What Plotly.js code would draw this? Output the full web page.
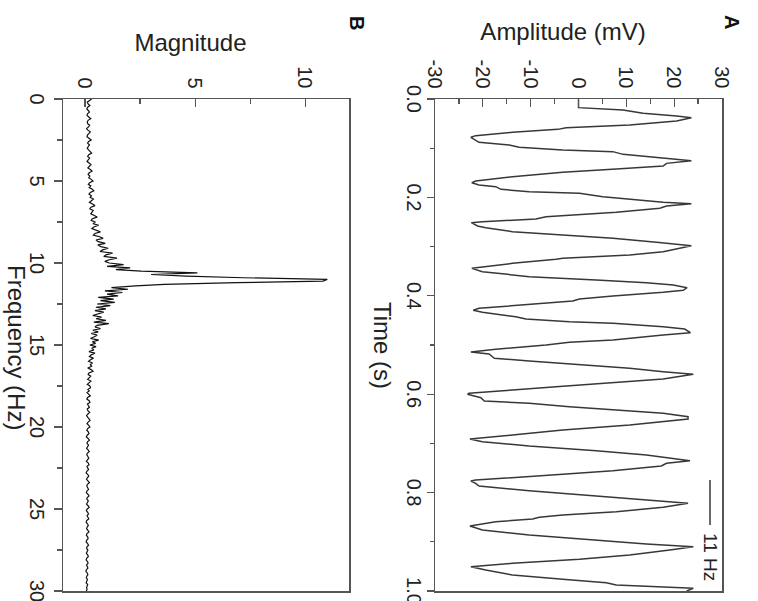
<!DOCTYPE html>
<html>
<head>
<meta charset="utf-8">
<script src="https://cdn.plot.ly/plotly-3.0.1.min.js"></script>
<style>
  html, body { margin: 0; padding: 0; width: 758px; height: 601px; overflow: hidden; background: #fff; }
  #chart { position: absolute; left: 0; top: 0; width: 601px; height: 758px;
           transform-origin: 0 0; transform: translateX(758px) rotate(90deg); }
</style>
</head>
<body>
<div id="chart"></div>
<script>
// Panel A: recorded signal (time in s, amplitude in mV)
const timeS = [0,0.0176,0.0224,0.0291,0.0346,0.0379,0.0447,0.0528,0.0583,0.0617,
  0.0678,0.0745,0.0779,0.0833,0.0881,0.0935,0.0982,0.1037,0.1070,0.1125,
  0.1206,0.1253,0.1308,0.1362,0.1423,0.1491,0.1579,0.1667,0.1701,0.1748,
  0.1782,0.1836,0.1883,0.1917,0.1985,0.2053,0.2100,0.2127,0.2175,0.2222,
  0.2304,0.2392,0.2439,0.2493,0.2514,0.2581,0.2615,0.2696,0.2764,0.2832,
  0.2913,0.2981,0.3103,0.3171,0.3238,0.3259,0.3340,0.3421,0.3442,0.3509,
  0.3611,0.3679,0.3733,0.3780,0.3835,0.3889,0.3930,0.4004,0.4065,0.4106,
  0.4173,0.4255,0.4295,0.4336,0.4390,0.4424,0.4472,0.4526,0.4560,0.4627,
  0.4675,0.4749,0.4797,0.4898,0.4946,0.5000,0.5088,0.5142,0.5183,0.5271,
  0.5325,0.5393,0.5474,0.5542,0.5596,0.5691,0.5779,0.5847,0.5915,0.5982,
  0.6003,0.6071,0.6138,0.6186,0.6253,0.6321,0.6389,0.6457,0.6504,0.6626,
  0.6728,0.6829,0.6911,0.6965,0.7053,0.7148,0.7236,0.7351,0.7405,0.7459,
  0.7554,0.7629,0.7710,0.7744,0.7764,0.7812,0.7866,0.7961,0.8069,0.8150,
  0.8218,0.8299,0.8388,0.8455,0.8503,0.8537,0.8591,0.8679,0.8760,0.8862,
  0.8963,0.9045,0.9099,0.9167,0.9268,0.9356,0.9438,0.9505,0.9573,0.9675,
  0.9763,0.9831,0.9878,0.9912,0.9946,1.0];
const ampMV = [0,0,9.3,13.5,20.5,23.6,20.5,10.7,-2.6,-4.3,
  -13.8,-21.5,-22.5,-21.5,-20.8,-14.5,-12.4,-3.3,7.2,9.3,
  17.7,23.6,18.4,17.7,7.9,-3.3,-13.8,-21.5,-22.3,-20.8,
  -17.3,-16.2,-10.3,0.2,5.1,13.5,17.7,23.6,18.4,17.0,
  7.9,-6.8,-8.9,-20.1,-22.4,-21.1,-19.4,-13.8,-3.3,7.2,
  16.3,23.6,17.7,10.7,-3.3,-4.7,-13.8,-21.5,-22.3,-20.1,
  -10.3,3.7,14.2,19.8,22.7,21.9,17.7,7.2,0.2,-1.2,
  -10.3,-20.8,-22.0,-20.1,-15.9,-13.1,-11.0,-1.9,7.2,17.7,
  22.2,23.4,17.7,7.2,-1.9,-6.8,-17.3,-22.5,-18.7,-17.6,
  -10.3,0.2,10.7,17.7,24.0,17.7,3.7,-4.7,-13.8,-22.9,
  -23.2,-20.4,-19.7,-10.3,-1.9,7.2,17.7,22.9,22.9,10.7,
  -3.3,-13.8,-22.7,-20.1,-10.3,3.7,14.2,23.3,18.4,17.3,
  7.2,-3.3,-17.3,-21.5,-22.5,-21.5,-20.8,-10.3,3.7,14.2,
  22.9,17.7,7.9,-3.3,-8.2,-9.6,-17.3,-22.7,-20.1,-10.3,
  3.7,14.2,24.0,19.1,10.7,0.2,-13.8,-22.5,-19.4,-13.8,
  -3.3,5.8,7.9,17.7,24.0,22.6];

// Panel B: spectrum magnitude, one value per 0.1 Hz from 0 to 30 Hz
const freqStepHz = 0.1;
const magnitude = [
  0.30,0.18,0.10,0.14,0.22,0.12,0.08,0.15,0.20,0.11,
  0.09,0.17,0.26,0.14,0.10,0.12,0.21,0.16,0.07,0.13,
  0.24,0.18,0.11,0.09,0.19,0.28,0.15,0.12,0.20,0.14,
  0.10,0.16,0.25,0.30,0.17,0.12,0.21,0.14,0.09,0.18,
  0.27,0.20,0.13,0.24,0.32,0.19,0.14,0.22,0.17,0.28,
  0.36,0.21,0.15,0.26,0.19,0.33,0.40,0.24,0.18,0.29,
  0.23,0.38,0.30,0.20,0.34,0.45,0.27,0.22,0.37,0.31,
  0.26,0.42,0.55,0.33,0.28,0.47,0.36,0.62,0.40,0.31,
  0.52,0.70,0.45,0.38,0.66,0.82,0.50,0.60,0.92,0.58,
  0.72,1.05,0.80,0.68,1.25,0.95,0.85,1.45,1.10,0.90,
  1.10,1.75,1.00,2.05,1.40,2.55,5.10,3.00,4.60,7.20,
  11.00,10.80,6.90,3.60,2.30,1.20,1.95,0.90,1.70,1.00,
  1.50,0.60,1.30,0.70,1.35,0.55,1.15,0.50,0.95,0.45,
  0.85,0.60,0.35,0.75,0.50,0.95,0.40,1.08,0.55,0.45,
  0.70,0.35,0.60,0.28,0.55,0.42,0.25,0.62,0.33,0.48,
  0.22,0.50,0.30,0.40,0.18,0.45,0.28,0.20,0.38,0.25,
  0.16,0.34,0.24,0.30,0.12,0.28,0.36,0.18,0.14,0.26,
  0.20,0.12,0.27,0.18,0.10,0.22,0.25,0.13,0.19,0.09,
  0.16,0.24,0.12,0.08,0.19,0.22,0.11,0.15,0.20,0.10,
  0.13,0.21,0.16,0.07,0.12,0.19,0.23,0.14,0.09,0.17,
  0.22,0.12,0.08,0.15,0.18,0.10,0.06,0.14,0.20,0.11,
  0.09,0.16,0.12,0.07,0.14,0.19,0.10,0.08,0.13,0.17,
  0.11,0.06,0.15,0.18,0.09,0.12,0.16,0.08,0.05,0.13,
  0.17,0.10,0.07,0.14,0.20,0.11,0.08,0.12,0.16,0.09,
  0.06,0.13,0.18,0.10,0.08,0.15,0.11,0.07,0.14,0.19,
  0.10,0.06,0.12,0.16,0.09,0.13,0.17,0.08,0.05,0.11,
  0.15,0.10,0.07,0.13,0.18,0.09,0.06,0.12,0.14,0.08,
  0.05,0.11,0.16,0.09,0.07,0.13,0.10,0.06,0.12,0.15,
  0.08,0.05,0.11,0.14,0.07,0.10,0.13,0.06,0.04,0.10,
  0.13,0.08,0.06,0.11,0.09,0.05,0.12,0.10,0.07,0.09,
  0.06];
const freqHz = magnitude.map((_, i) => Math.round(i * freqStepHz * 10) / 10);

// Tick labels
const timeTicks = [0, 0.2, 0.4, 0.6, 0.8, 1.0];
const timeTickText = ['0.0', '0.2', '0.4', '0.6', '0.8', '1.0'];
const ampTicks = [-30, -20, -10, 0, 10, 20, 30];
const ampTickText = ['-30', '-20', '-10', '0', '10', '20', '30'];
const freqTicks = [0, 5, 10, 15, 20, 25, 30];
const freqTickText = ['0', '5', '10', '15', '20', '25', '30'];
const magTicks = [0, 5, 10];
const magTickText = ['0', '5', '10'];
const legendLabel = '11 Hz';

const FONT = 'Liberation Sans, Arial, Helvetica, sans-serif';
const FRAME = '#555';

function xAx(extra) {
  return Object.assign({
    showline: true, linecolor: FRAME, linewidth: 1.5, mirror: true,
    showgrid: false, zeroline: false, fixedrange: true,
    ticks: 'outside', ticklen: 7, tickwidth: 1.3, tickcolor: FRAME,
    tickmode: 'array', ticklabeloverflow: 'allow',
    tickfont: {family: FONT, size: 20, color: '#222'}
  }, extra);
}
function yAx(extra) {
  return Object.assign({
    showline: true, linecolor: FRAME, linewidth: 1.5, mirror: true,
    showgrid: false, zeroline: false, fixedrange: true,
    ticks: 'inside', ticklen: 8, tickwidth: 1.3, tickcolor: FRAME,
    tickmode: 'array', ticklabeloverflow: 'allow',
    tickfont: {family: FONT, size: 20, color: '#222'}
  }, extra);
}

const traces = [
  {x: timeS, y: ampMV, xaxis: 'x', yaxis: 'y', type: 'scatter', mode: 'lines',
   name: legendLabel, line: {color: '#383838', width: 1.5}},
  {x: freqHz, y: magnitude, xaxis: 'x2', yaxis: 'y2', type: 'scatter', mode: 'lines',
   name: 'Spectrum', line: {color: '#111', width: 1.2}}
];

const layout = {
  width: 601, height: 758,
  margin: {l: 99, r: 10, t: 36, b: 63, pad: 0},
  showlegend: false,
  paper_bgcolor: '#fff', plot_bgcolor: '#fff',
  font: {family: FONT, size: 20, color: '#222'},
  xaxis: xAx({anchor: 'y', domain: [0, 1], range: [0, 1],
    tickvals: timeTicks, ticktext: timeTickText, ticklabelstandoff: -4,
    minor: {tickmode: 'linear', tick0: 0, dtick: 0.1, ticks: 'outside', ticklen: 4, tickwidth: 1.3, tickcolor: FRAME}}),
  yaxis: yAx({anchor: 'x', domain: [0.5645, 1], range: [-30, 30],
    tickvals: ampTicks, ticktext: ampTickText, ticklabelstandoff: 5,
    minor: {tickmode: 'linear', tick0: 0, dtick: 5, ticks: 'inside', ticklen: 4.5, tickwidth: 1.3, tickcolor: FRAME}}),
  xaxis2: xAx({anchor: 'y2', domain: [0, 1], range: [0, 30],
    tickvals: freqTicks, ticktext: freqTickText, ticklen: 8, ticklabelstandoff: 0,
    minor: {tickmode: 'linear', tick0: 0, dtick: 2.5, ticks: 'outside', ticklen: 4.5, tickwidth: 1.3, tickcolor: FRAME}}),
  yaxis2: yAx({anchor: 'x2', domain: [0, 0.4345], range: [-1, 12],
    tickvals: magTicks, ticktext: magTickText, ticklabelstandoff: 5,
    minor: {tickmode: 'linear', tick0: 0, dtick: 2.5, ticks: 'inside', ticklen: 4.5, tickwidth: 1.3, tickcolor: FRAME}}),
  shapes: [
    {type: 'line', xref: 'paper', yref: 'paper', x0: 0.7744, x1: 0.8659, y0: 0.9818, y1: 0.9818,
     line: {color: '#383838', width: 1.5}}
  ],
  annotations: [
    {text: legendLabel, xref: 'paper', yref: 'paper', x: 0.879, y: 0.9818, xanchor: 'left', yanchor: 'middle',
     showarrow: false, font: {family: FONT, size: 19, color: '#222'}},
    {text: 'Amplitude (mV)', xref: 'paper', yref: 'paper', x: -0.139, y: 0.7587, textangle: -90,
     xanchor: 'center', yanchor: 'middle', showarrow: false, font: {family: FONT, size: 24, color: '#222'}},
    {text: 'Time (s)', xref: 'paper', yref: 'paper', x: 0.5, y: 0.4853,
     xanchor: 'center', yanchor: 'middle', showarrow: false, font: {family: FONT, size: 24, color: '#222'}},
    {text: 'Magnitude', xref: 'paper', yref: 'paper', x: -0.1167, y: 0.1927, textangle: -90,
     xanchor: 'center', yanchor: 'middle', showarrow: false, font: {family: FONT, size: 24, color: '#222'}},
    {text: 'Frequency (Hz)', xref: 'paper', yref: 'paper', x: 0.506, y: -0.071,
     xanchor: 'center', yanchor: 'middle', showarrow: false, font: {family: FONT, size: 24, color: '#222'}},
    {text: '<b>A</b>', xref: 'paper', yref: 'paper', x: -0.1555, y: 1.0159,
     xanchor: 'center', yanchor: 'middle', showarrow: false, font: {family: FONT, size: 20, color: '#111'}},
    {text: '<b>B</b>', xref: 'paper', yref: 'paper', x: -0.1535, y: 0.4454,
     xanchor: 'center', yanchor: 'middle', showarrow: false, font: {family: FONT, size: 20, color: '#111'}}
  ]
};

Plotly.newPlot('chart', traces, layout, {staticPlot: true, displayModeBar: false});
</script>
</body>
</html>
